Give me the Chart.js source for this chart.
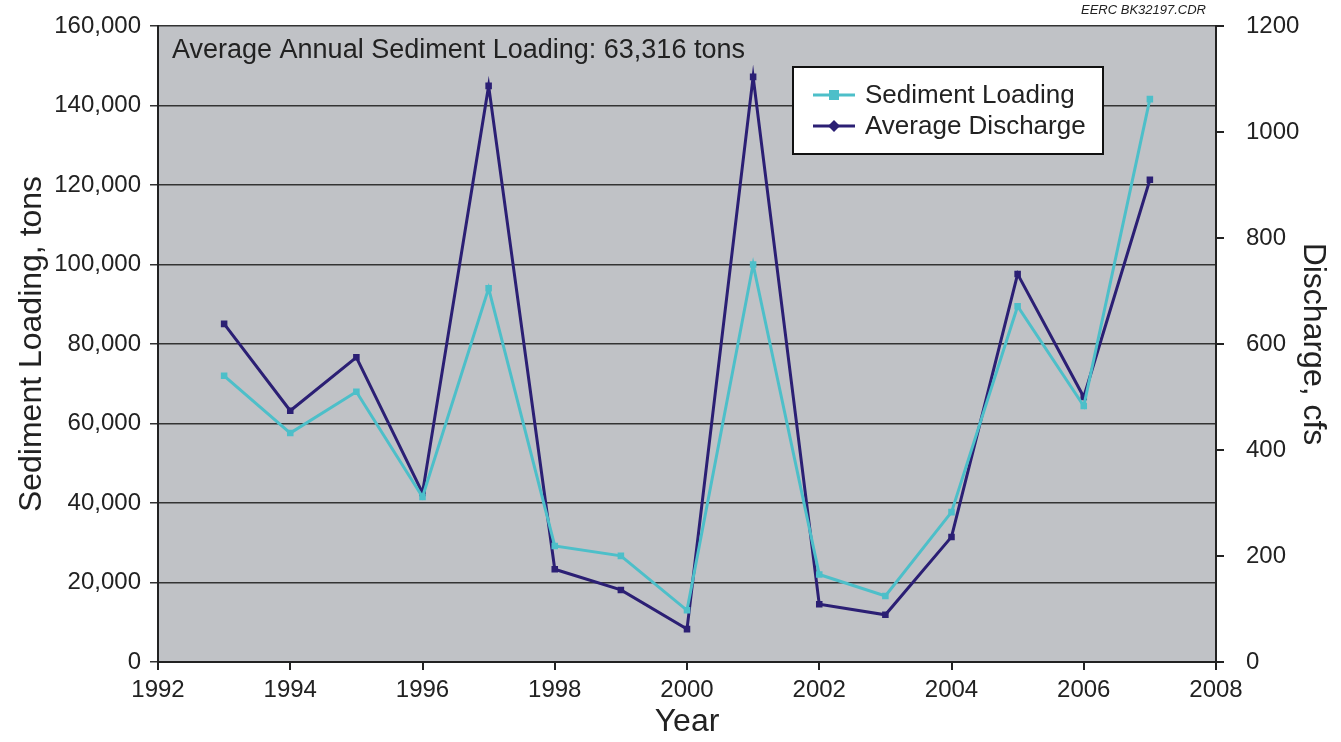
<!DOCTYPE html>
<html>
<head>
<meta charset="utf-8">
<script src="https://cdn.jsdelivr.net/npm/chart.js@4"></script>
<style>
  body { margin: 0; background: #fff; }
  #wrap { width: 1341px; height: 742px; }
</style>
</head>
<body>
<div id="wrap"><canvas id="chart"></canvas></div>
<script>
// years on the x axis
const years = [1993, 1994, 1995, 1996, 1997, 1998, 1999, 2000, 2001, 2002, 2003, 2004, 2005, 2006, 2007];
// sediment loading, tons (left axis)
const sediment = [72000, 57600, 68000, 41500, 94000, 29200, 26700, 13000, 100000, 22000, 16600, 37700, 89500, 64400, 141600];
// average discharge, cfs (right axis)
const discharge = [638, 474, 575, 319, 1087, 175, 136, 62, 1104, 109, 89, 236, 732, 500, 910];

const cyan = '#4dbfc9';
const navy = '#2b1f74';
const font = 'Liberation Sans, Arial, sans-serif';

// grey plot background, note text and legend box
const extras = {
    id: 'extras',
    beforeDraw(chart) {
        const { ctx, chartArea: a } = chart;
        ctx.save();
        ctx.fillStyle = '#c0c2c6';
        ctx.fillRect(a.left, a.top, a.right - a.left, a.bottom - a.top);
        ctx.restore();
    },
    afterDraw(chart) {
        const { ctx, chartArea: a } = chart;
        ctx.save();
        ctx.fillStyle = '#222';
        ctx.font = '27px ' + font;
        ctx.textBaseline = 'middle';
        ctx.fillText('Average Annual Sediment Loading: 63,316 tons', a.left + 14, 51);

        ctx.font = 'italic 13px ' + font;
        ctx.textAlign = 'right';
        ctx.fillText('EERC BK32197.CDR', 1206, 10);

        // legend
        const lx = 793, ly = 67, lw = 310, lh = 87;
        ctx.fillStyle = '#fff';
        ctx.fillRect(lx, ly, lw, lh);
        ctx.strokeStyle = '#111';
        ctx.lineWidth = 2;
        ctx.strokeRect(lx, ly, lw, lh);
        const items = [[cyan, 'Sediment Loading', 'rect'], [navy, 'Average Discharge', 'rectRot']];
        ctx.textAlign = 'left';
        ctx.font = '26px ' + font;
        items.forEach((it, i) => {
            const y = ly + 28 + i * 31;
            ctx.strokeStyle = it[0];
            ctx.lineWidth = 3;
            ctx.beginPath();
            ctx.moveTo(lx + 20, y);
            ctx.lineTo(lx + 62, y);
            ctx.stroke();
            ctx.fillStyle = it[0];
            if (it[2] === 'rect') {
                ctx.fillRect(lx + 36, y - 5, 10, 10);
            } else {
                ctx.beginPath();
                ctx.moveTo(lx + 41, y - 6);
                ctx.lineTo(lx + 47, y);
                ctx.lineTo(lx + 41, y + 6);
                ctx.lineTo(lx + 35, y);
                ctx.closePath();
                ctx.fill();
            }
            ctx.fillStyle = '#222';
            ctx.fillText(it[1], lx + 72, y + 1);
        });
        ctx.restore();
    }
};

// keep the plot box fixed: no extra room for overhanging tick labels
function fixY(width) {
    return s => { s.width = width; s.paddingTop = 0; s.paddingBottom = 0; };
}

new Chart(document.getElementById('chart'), {
    type: 'line',
    data: {
        datasets: [
            {
                label: 'Sediment Loading',
                data: years.map((x, i) => ({ x, y: sediment[i] })),
                borderColor: cyan,
                backgroundColor: cyan,
                borderWidth: 3,
                pointStyle: 'rect',
                pointRadius: 2.5,
                yAxisID: 'y',
                tension: 0
            },
            {
                label: 'Average Discharge',
                data: years.map((x, i) => ({ x, y: discharge[i] })),
                borderColor: navy,
                backgroundColor: navy,
                borderWidth: 3,
                pointStyle: 'rect',
                pointRadius: 2.5,
                yAxisID: 'y1',
                tension: 0
            }
        ]
    },
    options: {
        responsive: true,
        maintainAspectRatio: false,
        animation: false,
        layout: { padding: { top: 26, left: 0, right: 0, bottom: 0 } },
        plugins: { legend: { display: false }, tooltip: { enabled: false } },
        scales: {
            x: {
                type: 'linear',
                min: 1992,
                max: 2008,
                afterFit(s) { s.height = 80; s.paddingLeft = 0; s.paddingRight = 0; },
                ticks: {
                    stepSize: 2,
                    color: '#222',
                    font: { family: font, size: 24 },
                    padding: 6,
                    callback: v => String(v)
                },
                grid: { drawOnChartArea: false, color: '#222', tickLength: 8, lineWidth: 2 },
                border: { color: '#222', width: 2 },
                title: { display: true, text: 'Year', color: '#222', font: { family: font, size: 32 }, padding: 1 }
            },
            y: {
                position: 'left',
                min: 0,
                max: 160000,
                afterFit: fixY(158),
                ticks: {
                    stepSize: 20000,
                    color: '#222',
                    font: { family: font, size: 24 },
                    padding: 9
                },
                grid: { color: '#333', lineWidth: 1.5, tickLength: 8 },
                border: { color: '#222', width: 2 },
                title: { display: true, text: 'Sediment Loading, tons', color: '#222', font: { family: font, size: 32 }, padding: { top: 13, bottom: 0 } }
            },
            y1: {
                position: 'right',
                min: 0,
                max: 1200,
                afterFit: fixY(125),
                ticks: {
                    stepSize: 200,
                    color: '#222',
                    font: { family: font, size: 24 },
                    padding: 22,
                    callback: v => String(v)
                },
                grid: { drawOnChartArea: false, color: '#222', tickLength: 8, lineWidth: 2 },
                border: { color: '#222', width: 2 },
                title: { display: true, text: 'Discharge, cfs', color: '#222', font: { family: font, size: 32 }, padding: { top: 9, bottom: 0 } }
            }
        }
    },
    plugins: [extras]
});
</script>
</body>
</html>
